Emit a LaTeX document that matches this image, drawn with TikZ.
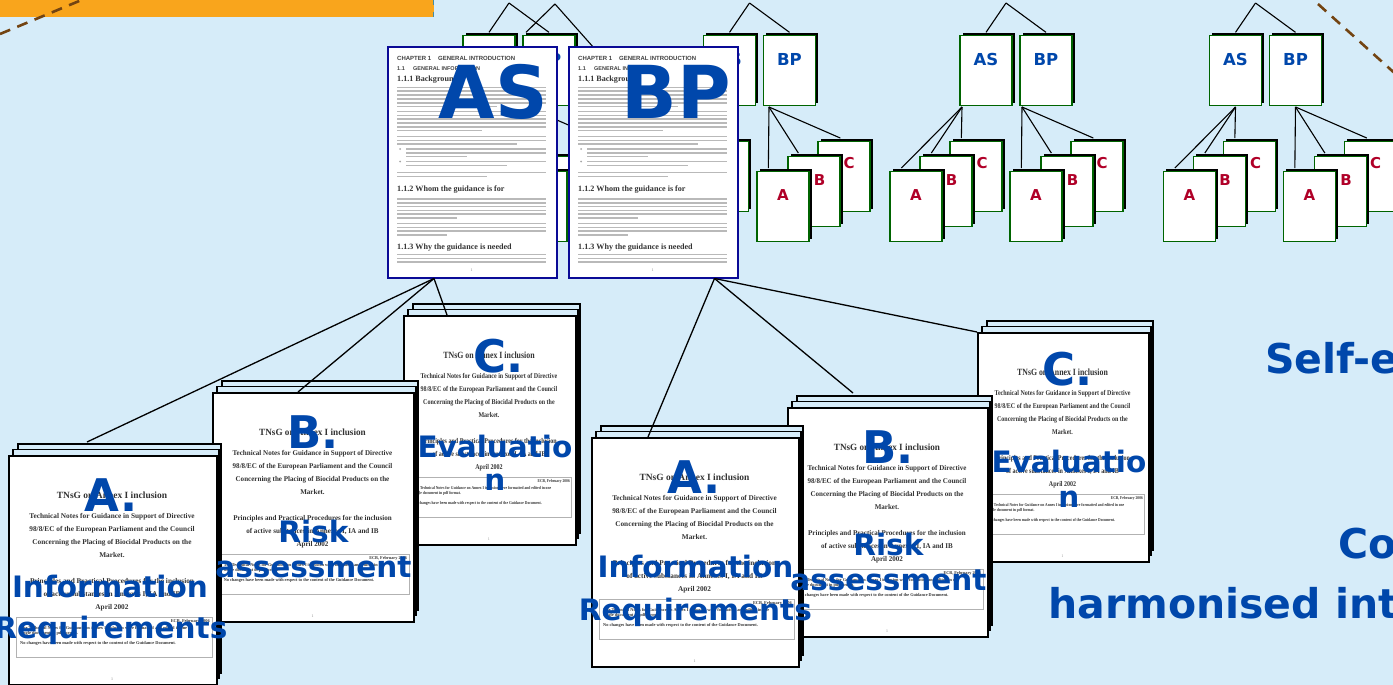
\documentclass[tikz,border=0pt]{standalone}
\usepackage{fontspec}
\usetikzlibrary{calc,shadows}
\newfontfamily\lblf{DejaVu Sans}
\newfontfamily\pgserif{Liberation Serif}
\newfontfamily\pgsans{Liberation Sans}
\definecolor{bg}{RGB}{214,236,249}
\definecolor{lblue}{RGB}{0,71,171}
\definecolor{lred}{RGB}{176,0,40}
\definecolor{tgreen}{RGB}{0,100,0}
\definecolor{navy}{RGB}{10,10,150}
\definecolor{orng}{RGB}{249,165,28}
\definecolor{brwn}{RGB}{115,68,18}
\definecolor{teal2}{RGB}{70,140,160}
\tikzset{
 tbox/.style={draw=tgreen, line width=1.3pt, fill=white, minimum width=52pt, minimum height=70pt, inner sep=0pt,
   general shadow={fill=black, shadow xshift=2.8pt, shadow yshift=2.8pt}},
 tline/.style={line width=1.1pt, black},
 tlabb/.style={font=\lblf\bfseries\fontsize{16.5}{18}\selectfont, text=lblue, inner sep=0pt},
 tlabr/.style={font=\lblf\bfseries\fontsize{15}{17}\selectfont, text=lred, inner sep=0pt},
 conn/.style={line width=1.3pt, black},
 bdoc/.style={draw=navy, line width=2pt, fill=white, minimum width=169pt, minimum height=230pt, inner sep=0pt},
 chap/.style={font=\pgsans\bfseries\fontsize{6}{7}\selectfont, text=black!75, inner sep=0pt, anchor=base west},
 chapb/.style={font=\pgsans\bfseries\fontsize{5.5}{6.5}\selectfont, text=black!75, inner sep=0pt, anchor=base west},
 hd/.style={font=\pgserif\bfseries\fontsize{8.1}{9}\selectfont, text=black!80, inner sep=0pt, anchor=base west},
 bar/.style={line width=1.6pt, gray!55},
 fpage/.style={draw=black, line width=1.8pt, fill=white, minimum height=229pt, inner sep=0pt},
 bpage/.style={draw=black, line width=1.8pt, fill=bg},
 pgt/.style={font=\pgserif\bfseries\fontsize{9.5}{11}\selectfont, text=black!80, anchor=base, inner sep=0pt, transform shape},
 pgb/.style={font=\pgserif\bfseries\fontsize{7.3}{8}\selectfont, text=black!80, anchor=base, inner sep=0pt, transform shape},
 pgs/.style={font=\pgserif\bfseries\fontsize{4.4}{5}\selectfont, text=black!80, anchor=base, inner sep=0pt, transform shape},
 pnum/.style={font=\pgserif\fontsize{4}{5}\selectfont, text=gray, anchor=base, inner sep=0pt, transform shape},
 hugelbl/.style={font=\lblf\bfseries\fontsize{73}{80}\selectfont, text=lblue, inner sep=0pt, anchor=base},
 biglbl/.style={font=\lblf\bfseries\fontsize{45}{50}\selectfont, text=lblue, inner sep=0pt, anchor=base},
 midlbl/.style={font=\lblf\bfseries\fontsize{29.5}{34}\selectfont, text=lblue, inner sep=0pt, anchor=base},
 sidelbl/.style={font=\lblf\bfseries\fontsize{41}{46}\selectfont, text=lblue, inner sep=0pt, anchor=base west}
}
% tree: id, AS centre x, AS-group origin x, BP-group origin x
\newcommand\ftree[4]{%
 \coordinate (#1ap) at (#2+20,3);
 \node[tbox] (#1as) at (#2,70.5) {};
 \node[tbox] (#1bp) at (#2+60,70.5) {};
 \draw[tline] (#1ap) -- ($(#1as.north)+(0,-2.5)$);
 \draw[tline] (#1ap) -- ($(#1bp.north)+(0,-2.5)$);
 \node[tlabb] (#1asl) at (#2,59) {AS};
 \node[tlabb] (#1bpl) at (#2+60,59) {BP};
 \coordinate (#1ao) at (#3,107);
 \coordinate (#1bo) at (#4,107);
 \node[tbox] (#1C) at (#3+14,176.5) {};
 \node[tbox] (#1B) at (#3-16,191.5) {};
 \node[tbox] (#1A) at (#3-46,206.5) {};
 \node[tbox] (#1Cb) at (#4+75,176.5) {};
 \node[tbox] (#1Bb) at (#4+45,191.5) {};
 \node[tbox] (#1Ab) at (#4+14,206.5) {};
 \draw[tline] (#1ao) -- ($(#1A.north west)+(12,-2.8)$);
 \draw[tline] (#1ao) -- ($(#1B.north west)+(12,-2.8)$);
 \draw[tline] (#1ao) -- ($(#1C.north west)+(12,-2.8)$);
 \draw[tline] (#1bo) -- ($(#1Ab.north west)+(12,-2.8)$);
 \draw[tline] (#1bo) -- ($(#1Bb.north west)+(11,-2.8)$);
 \draw[tline] (#1bo) -- ($(#1Cb.north west)+(23,-2.8)$);
 \node[tlabr] (#1Cl) at (#3+20,163.5) {C};
 \node[tlabr] (#1Bl) at (#3-10.5,180) {B};
 \node[tlabr] (#1Al) at (#3-46,195) {A};
 \node[tlabr] (#1Cbl) at (#4+80,163.5) {C};
 \node[tlabr] (#1Bbl) at (#4+50.5,180) {B};
 \node[tlabr] (#1Abl) at (#4+14,195) {A};
}
% big chapter document: name, x, y
\newcommand\bigdoc[3]{%
 \node[bdoc, anchor=north west] (#1) at (#2,#3) {};
 \begin{scope}[shift={(#2,#3)}]
  \node[chap] (#1c1) at (10,14) {CHAPTER 1};
  \node[chap] (#1c2) at (51,14) {GENERAL INTRODUCTION};
  \node[chapb] (#1c3) at (10,24) {1.1};
  \node[chapb] (#1c4) at (26,24) {GENERAL INFORMATION};
  \node[hd] (#1h1) at (10,35) {1.1.1 Background};
  \foreach \yy/\xa/\xb in {41/10/159,44.8/10/159,48.6/10/159,52.4/10/159,56.2/10/159,60/10/110,
     65/10/159,68.8/10/159,72.6/10/159,76.4/10/159,80.2/10/159,84/10/95,
     90/10/159,93.8/10/159,97.6/10/130,
     102.5/19/159,106.3/19/159,110/19/80,115/19/159,118.8/19/120,
     126/10/159,129.8/10/100,
     152.5/10/159,156.3/10/159,160.1/10/159,163.9/10/159,167.7/10/159,171.5/10/70,
     177/10/159,180.8/10/159,184.6/10/159,188.4/10/60,
     208/10/159,211.8/10/159,215.6/10/159}
     {\draw[bar] (\xa,\yy) -- (\xb,\yy);}
  \fill[gray!70] (13,102.5) circle (1pt);
  \fill[gray!70] (13,115) circle (1pt);
  \node[hd] (#1h2) at (10,145) {1.1.2 Whom the guidance is for};
  \node[hd] (#1h3) at (10,203) {1.1.3 Why the guidance is needed};
  \node[pnum] (#1pn) at (84.5,225) {1};
 \end{scope}
}
% TNsG stack: name, x, y, width
\newcommand\tnsg[4]{%
 \pgfmathsetmacro\sx{#4/208}
 \draw[bpage] (#2+10,#3-11) rectangle (#2+#4+5,#3+218);
 \draw[bpage] (#2+5,#3-5.5) rectangle (#2+#4+3,#3+223.5);
 \node[fpage, minimum width=#4pt, anchor=north west] (#1) at (#2,#3) {};
 \begin{scope}[shift={(#2,#3)}, xscale=\sx]
  \node[pgt] (#1t0) at (104,43) {TNsG on Annex I inclusion};
  \node[pgb] (#1t1) at (104,63.5) {Technical Notes for Guidance in Support of Directive};
  \node[pgb] (#1t2) at (104,76.5) {98/8/EC of the European Parliament and the Council};
  \node[pgb] (#1t3) at (104,89.5) {Concerning the Placing of Biocidal Products on the};
  \node[pgb] (#1t4) at (104,102.5) {Market.};
  \node[pgb] (#1t5) at (104,128.5) {Principles and Practical Procedures for the inclusion};
  \node[pgb] (#1t6) at (104,141.5) {of active substances in Annexes I, IA and IB};
  \node[pgb] (#1t7) at (104,154.5) {April 2002};
  \draw[gray!60, line width=0.8pt] (8,162) rectangle (204,202);
  \node[pgs, anchor=base east] (#1e) at (202,167) {ECB, February 2006};
  \node[pgs, anchor=base west] (#1f1) at (12,174) {The Technical Notes for Guidance on Annex I inclusion were formatted and edited in one};
  \node[pgs, anchor=base west] (#1f2) at (12,179) {single document in pdf format.};
  \node[pgs, anchor=base west] (#1f3) at (12,189) {No changes have been made with respect to the content of the Guidance Document.};
  \node[pnum] (#1pn) at (104,225) {1};
 \end{scope}
}
\begin{document}
\begin{tikzpicture}[x=1pt,y=-1pt]
\useasboundingbox (0,0) rectangle (1393,685);
\fill[bg] (0,0) rectangle (1393,685);
\fill[orng] (0,0) rectangle (434,17);
\draw[teal2, line width=1.2pt, dash pattern=on 5pt off 7pt] (433.5,0) -- (433.5,17);
\draw[brwn, line width=2.6pt, dash pattern=on 11pt off 7.7pt] (0,34) -- (84,-1);
\draw[brwn, line width=2.6pt, dash pattern=on 11pt off 7.7pt] (1318,4) -- (1400,78);
% trees
\ftree{t1}{489}{467}{527}
\ftree{t2}{729.5}{708.5}{769}
\ftree{t3}{986}{962}{1022}
\ftree{t4}{1235.5}{1235.5}{1295.5}
\coordinate (t0ap) at (555,4);
\coordinate (t0end) at (594,48);
\draw[tline] (t0ap) -- ($(t1bp.north)+(-23,-2.5)$);
\draw[tline] (t0ap) -- (t0end);
% big documents
\bigdoc{asdoc}{387}{46.5}
\bigdoc{bpdoc}{568}{46.5}
% stacks
\tnsg{lC}{403}{315}{172}
\tnsg{lB}{212}{392}{201}
\tnsg{lA}{8}{455}{208}
\tnsg{rC}{977}{332}{171}
\tnsg{rB}{787}{407}{200}
\tnsg{rA}{591}{437}{207}
% connectors
\coordinate (asfoot) at ($(asdoc.south west)+(47,0)$);
\coordinate (bpfoot) at ($(bpdoc.south west)+(146.5,0)$);
\draw[conn] (asfoot) -- ($(lA.north west)+(79,-13)$);
\draw[conn] (asfoot) -- ($(lB.north west)+(86,0)$);
\draw[conn] (asfoot) -- ($(lC.north west)+(44,0)$);
\draw[conn] (bpfoot) -- ($(rA.north west)+(57,0)$);
\draw[conn] (bpfoot) -- ($(rB.north west)+(66,-14)$);
\draw[conn] (bpfoot) -- (rC.north west);
% labels
\node[hugelbl] (asbig) at (493.5,118) {AS};
\node[hugelbl] (bpbig) at (676,118) {BP};
\node[biglbl] (lAa) at ($(lA.north)+(-2,56)$) {A.};
\node[midlbl] (lAb) at ($(lA.north)+(-3,142)$) {Information};
\node[midlbl] (lAc) at ($(lA.north)+(-2,183)$) {Requirements};
\node[biglbl] (lBa) at ($(lB.north)+(0,56)$) {B.};
\node[midlbl] (lBb) at ($(lB.north)+(0,150)$) {Risk};
\node[midlbl] (lBc) at ($(lB.north)+(0,185)$) {assessment};
\node[biglbl] (lCa) at ($(lC.north)+(9,57)$) {C.};
\node[midlbl] (lCb) at ($(lC.north)+(5,142)$) {Evaluatio};
\node[midlbl] (lCc) at ($(lC.north)+(5,175)$) {n};
\node[biglbl] (rAa) at ($(rA.north)+(-1.5,56)$) {A.};
\node[midlbl] (rAb) at ($(rA.north)+(0,140)$) {Information};
\node[midlbl] (rAc) at ($(rA.north)+(0,183)$) {Requirements};
\node[biglbl] (rBa) at ($(rB.north)+(0,56)$) {B.};
\node[midlbl] (rBb) at ($(rB.north)+(0.5,148)$) {Risk};
\node[midlbl] (rBc) at ($(rB.north)+(0.5,183)$) {assessment};
\node[biglbl] (rCa) at ($(rC.north)+(4.5,53)$) {C.};
\node[midlbl] (rCb) at ($(rC.north)+(5.5,140)$) {Evaluatio};
\node[midlbl] (rCc) at ($(rC.north)+(5.5,175)$) {n};
% right side text
\node[sidelbl] (s1) at (1265,373) {Self-e};
\node[sidelbl] (s2) at (1338,558) {Co};
\node[sidelbl] (s3) at (1048,618) {harmonised int};
\end{tikzpicture}
\end{document}
